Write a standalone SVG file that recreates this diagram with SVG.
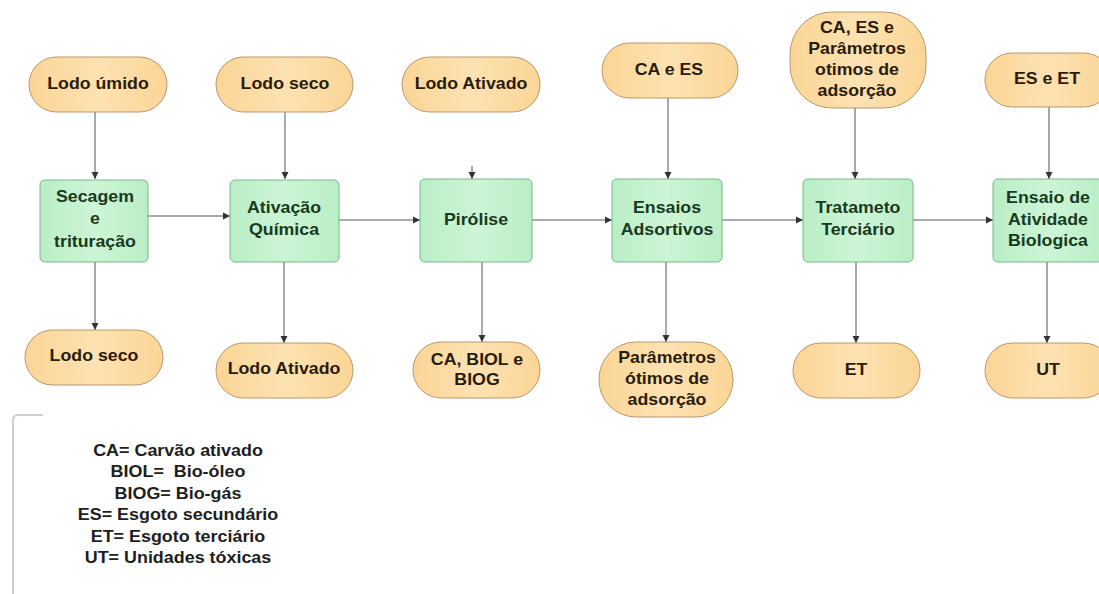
<svg xmlns="http://www.w3.org/2000/svg" width="1099" height="594" viewBox="0 0 1099 594">
<defs>
<linearGradient id="gp" x1="0" y1="0" x2="1" y2="0">
<stop offset="0" stop-color="#fbd596"/><stop offset="0.5" stop-color="#fde2b2"/><stop offset="1" stop-color="#fbd596"/>
</linearGradient>
<linearGradient id="gg" x1="0" y1="0" x2="1" y2="0">
<stop offset="0" stop-color="#b9eec6"/><stop offset="0.5" stop-color="#cdf5d6"/><stop offset="1" stop-color="#b9eec6"/>
</linearGradient>
<marker id="ah" markerUnits="userSpaceOnUse" markerWidth="8" markerHeight="8" refX="7" refY="4" orient="auto">
<path d="M0,0.5 L7,4 L0,7.5 z" fill="#333"/>
</marker>
<style>
.pill{fill:url(#gp);stroke:#b8976b;stroke-width:1}
.box{fill:url(#gg);stroke:#78b887;stroke-width:1}
.t{font-family:"Liberation Sans",Arial,sans-serif;font-weight:bold;font-size:16px;text-anchor:middle}
.tp{fill:#2a1c0c}
.tb{fill:#183a1e}
.tl{fill:#1e1e1e}
.pre{white-space:pre}
.c{stroke:#555;stroke-width:1;fill:none;marker-end:url(#ah)}
.br{stroke:#cfcfcf;stroke-width:2;fill:none}
</style>
</defs>
<rect width="1099" height="594" fill="#fff"/>

<g id="connectors">
<path class="c" d="M95,112 V179"/>
<path class="c" d="M285,112 V179"/>
<path class="c" d="M472,166 V179"/>
<path class="c" d="M668,98 V179"/>
<path class="c" d="M855,108 V179"/>
<path class="c" d="M1049,107 V179"/>
<path class="c" d="M148,216 H230"/>
<path class="c" d="M339,220 H420"/>
<path class="c" d="M532,220 H612"/>
<path class="c" d="M722,220 H803"/>
<path class="c" d="M913,220 H993"/>
<path class="c" d="M95,262 V330"/>
<path class="c" d="M284,262 V343"/>
<path class="c" d="M482,262 V342"/>
<path class="c" d="M666,262 V342"/>
<path class="c" d="M856,262 V343"/>
<path class="c" d="M1047,262 V343"/>
</g>

<g id="in1"><rect class="pill" x="29" y="57" width="138" height="55" rx="27.5"/>
<text class="t tp" transform="translate(98,0) scale(1.11,1)" y="89">Lodo úmido</text></g>
<g id="in2"><rect class="pill" x="216" y="57" width="137" height="55" rx="27.5"/>
<text class="t tp" transform="translate(285,0) scale(1.11,1)" y="89">Lodo seco</text></g>
<g id="in3"><rect class="pill" x="402" y="57" width="138" height="55" rx="27.5"/>
<text class="t tp" transform="translate(471,0) scale(1.11,1)" y="89">Lodo Ativado</text></g>
<g id="in4"><rect class="pill" x="602" y="43" width="136" height="55" rx="27.5"/>
<text class="t tp" transform="translate(669,0) scale(1.11,1)" y="75">CA e ES</text></g>
<g id="in5"><rect class="pill" x="790" y="12" width="136" height="96" rx="42"/>
<text class="t tp" transform="translate(857,0) scale(1.11,1)"><tspan x="0" y="33">CA, ES e</tspan><tspan x="0" y="54">Parâmetros</tspan><tspan x="0" y="75">otimos de</tspan><tspan x="0" y="96">adsorção</tspan></text></g>
<g id="in6"><rect class="pill" x="985" y="53" width="126" height="54" rx="27"/>
<text class="t tp" transform="translate(1047,0) scale(1.11,1)" y="84">ES e ET</text></g>

<g id="p1"><rect class="box" x="40" y="180" width="108" height="82" rx="5"/>
<text class="t tb" transform="translate(95,0) scale(1.11,1)"><tspan x="0" y="202">Secagem</tspan><tspan x="0" y="224">e</tspan><tspan x="0" y="247">trituração</tspan></text></g>
<g id="p2"><rect class="box" x="230" y="180" width="109" height="82" rx="5"/>
<text class="t tb" transform="translate(284,0) scale(1.11,1)"><tspan x="0" y="213">Ativação</tspan><tspan x="0" y="235">Química</tspan></text></g>
<g id="p3"><rect class="box" x="420" y="179" width="112" height="83" rx="5"/>
<text class="t tb" transform="translate(476,0) scale(1.11,1)" y="225">Pirólise</text></g>
<g id="p4"><rect class="box" x="612" y="179" width="110" height="83" rx="5"/>
<text class="t tb" transform="translate(667,0) scale(1.11,1)"><tspan x="0" y="213">Ensaios</tspan><tspan x="0" y="235">Adsortivos</tspan></text></g>
<g id="p5"><rect class="box" x="803" y="179" width="110" height="83" rx="5"/>
<text class="t tb" transform="translate(858,0) scale(1.11,1)"><tspan x="0" y="213">Tratameto</tspan><tspan x="0" y="235">Terciário</tspan></text></g>
<g id="p6"><rect class="box" x="993" y="179" width="110" height="83" rx="5"/>
<text class="t tb" transform="translate(1048,0) scale(1.11,1)"><tspan x="0" y="203">Ensaio de</tspan><tspan x="0" y="225">Atividade</tspan><tspan x="0" y="246">Biologica</tspan></text></g>

<g id="out1"><rect class="pill" x="25" y="330" width="138" height="55" rx="27.5"/>
<text class="t tp" transform="translate(94,0) scale(1.11,1)" y="361">Lodo seco</text></g>
<g id="out2"><rect class="pill" x="216" y="343" width="137" height="55" rx="27.5"/>
<text class="t tp" transform="translate(284,0) scale(1.11,1)" y="374">Lodo Ativado</text></g>
<g id="out3"><rect class="pill" x="413" y="342" width="127" height="56" rx="28"/>
<text class="t tp" transform="translate(477,0) scale(1.11,1)"><tspan x="0" y="365">CA, BIOL e</tspan><tspan x="0" y="385">BIOG</tspan></text></g>
<g id="out4"><rect class="pill" x="599" y="342" width="134" height="75" rx="37"/>
<text class="t tp" transform="translate(667,0) scale(1.11,1)"><tspan x="0" y="363">Parâmetros</tspan><tspan x="0" y="384">ótimos de</tspan><tspan x="0" y="405">adsorção</tspan></text></g>
<g id="out5"><rect class="pill" x="793" y="343" width="127" height="55" rx="27.5"/>
<text class="t tp" transform="translate(856,0) scale(1.11,1)" y="375">ET</text></g>
<g id="out6"><rect class="pill" x="985" y="343" width="126" height="55" rx="27.5"/>
<text class="t tp" transform="translate(1048,0) scale(1.11,1)" y="375">UT</text></g>

<g id="legend">
<path class="br" d="M43,415 H18 Q13,415 13,420 V594"/>
<text class="t tl pre" transform="translate(178,0) scale(1.12,1)"><tspan x="0" y="456">CA= Carvão ativado</tspan><tspan x="0" y="477.5">BIOL=  Bio-óleo</tspan><tspan x="0" y="499">BIOG= Bio-gás</tspan><tspan x="0" y="520.5">ES= Esgoto secundário</tspan><tspan x="0" y="542">ET= Esgoto terciário</tspan><tspan x="0" y="563.5">UT= Unidades tóxicas</tspan></text>
</g>
</svg>
